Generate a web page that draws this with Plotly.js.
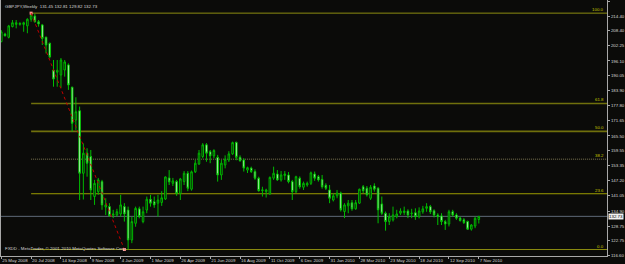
<!DOCTYPE html>
<html>
<head>
<meta charset="utf-8">
<script src="https://cdn.plot.ly/plotly-3.0.1.min.js"></script>
<style>
html,body{margin:0;padding:0;background:#0b0b09;}
#chart{width:625px;height:264px;}
</style>
</head>
<body>
<div id="chart"></div>
<script>
// Weekly bar dates (week start, Sunday)
const weeks = [
"2008-05-25","2008-06-01","2008-06-08","2008-06-15","2008-06-22","2008-06-29","2008-07-06","2008-07-13","2008-07-20","2008-07-27",
"2008-08-03","2008-08-10","2008-08-17","2008-08-24","2008-08-31","2008-09-07","2008-09-14","2008-09-21","2008-09-28","2008-10-05",
"2008-10-12","2008-10-19","2008-10-26","2008-11-02","2008-11-09","2008-11-16","2008-11-23","2008-11-30","2008-12-07","2008-12-14",
"2008-12-21","2008-12-28","2009-01-04","2009-01-11","2009-01-18","2009-01-25","2009-02-01","2009-02-08","2009-02-15","2009-02-22",
"2009-03-01","2009-03-08","2009-03-15","2009-03-22","2009-03-29","2009-04-05","2009-04-12","2009-04-19","2009-04-26","2009-05-03",
"2009-05-10","2009-05-17","2009-05-24","2009-05-31","2009-06-07","2009-06-14","2009-06-21","2009-06-28","2009-07-05","2009-07-12",
"2009-07-19","2009-07-26","2009-08-02","2009-08-09","2009-08-16","2009-08-23","2009-08-30","2009-09-06","2009-09-13","2009-09-20",
"2009-09-27","2009-10-04","2009-10-11","2009-10-18","2009-10-25","2009-11-01","2009-11-08","2009-11-15","2009-11-22","2009-11-29",
"2009-12-06","2009-12-13","2009-12-20","2009-12-27","2010-01-03","2010-01-10","2010-01-17","2010-01-24","2010-01-31","2010-02-07",
"2010-02-14","2010-02-21","2010-02-28","2010-03-07","2010-03-14","2010-03-21","2010-03-28","2010-04-04","2010-04-11","2010-04-18",
"2010-04-25","2010-05-02","2010-05-09","2010-05-16","2010-05-23","2010-05-30","2010-06-06","2010-06-13","2010-06-20","2010-06-27",
"2010-07-04","2010-07-11","2010-07-18","2010-07-25","2010-08-01","2010-08-08","2010-08-15","2010-08-22","2010-08-29","2010-09-05",
"2010-09-12","2010-09-19","2010-09-26","2010-10-03","2010-10-10","2010-10-17","2010-10-24","2010-10-31","2010-11-07"
];

const openP = [
204.0,207.1,205.75,210.1,211.0,211.0,211.0,210.4,213.1,214.4,
212.1,210.8,205.8,203.3,192.4,191.5,190.4,192.4,194.5,185.4,
172.0,175.8,150.3,158.5,157.1,140.8,142.8,146.9,136.5,136.7,
133.2,133.3,133.7,136.7,135.3,123.1,129.9,135.8,130.6,135.3,
139.7,138.7,138.1,138.4,139.8,148.4,146.2,146.9,142.1,146.9,
150.3,143.8,150.9,154.1,157.1,161.9,159.1,157.4,156.8,149.6,
153.7,155.7,158.2,162.9,156.8,155.7,151.6,152.4,151.0,148.3,
143.2,142.8,141.9,148.3,150.0,147.6,149.4,149.6,146.9,142.8,
148.3,144.6,145.5,146.2,150.0,148.9,147.8,145.4,143.5,139.4,
141.1,142.2,134.7,137.0,138.3,135.8,138.1,144.8,144.2,140.1,
145.1,144.2,137.8,134.0,130.6,131.3,132.6,134.0,134.3,134.9,
133.8,134.2,132.6,134.6,136.0,136.7,135.0,133.3,132.9,130.6,
129.6,134.6,133.3,132.0,131.3,130.6,127.5,128.8,131.45
];
const highP = [
208.7,207.6,210.8,212.8,212.8,211.9,212.1,213.5,215.6,215.3,
212.8,211.2,206.0,203.6,196.5,196.5,197.3,196.5,195.1,185.6,
181.3,177.5,162.5,160.5,159.8,147.6,148.4,147.6,140.1,138.1,
135.4,135.8,141.5,138.1,136.7,132.6,136.7,136.7,136.7,140.8,
141.5,140.8,141.5,143.0,149.0,151.6,148.4,147.6,148.4,151.2,
151.2,151.4,155.7,159.8,162.6,162.6,159.8,160.1,157.8,155.7,
157.6,159.3,163.2,163.2,157.6,156.4,153.0,153.0,151.9,148.9,
144.8,144.0,149.0,153.0,151.6,151.2,151.2,150.8,147.6,149.3,
149.0,146.9,146.9,151.0,151.0,149.6,149.6,146.2,145.5,142.1,
143.5,142.8,138.1,139.4,139.4,139.4,144.0,145.5,145.1,145.5,
146.2,144.6,140.8,134.7,134.0,136.7,135.4,136.0,136.7,135.6,
135.8,136.0,136.4,137.0,138.1,137.4,135.6,134.0,134.0,131.3,
135.4,135.4,134.0,132.6,132.0,131.0,129.6,132.6,132.81
];
const lowP = [
203.7,206.0,205.3,209.8,209.4,210.5,208.0,207.4,212.1,211.7,
210.1,202.6,199.2,197.2,185.6,185.6,185.1,189.7,184.3,167.3,
168.0,139.4,139.6,148.9,139.4,137.4,141.5,135.4,133.3,132.6,
132.0,132.6,132.6,130.6,119.2,121.8,128.5,131.9,129.9,134.0,
136.7,136.2,132.6,137.0,139.4,145.5,145.1,141.1,139.4,145.5,
143.0,143.2,150.4,153.7,156.4,155.0,154.4,156.4,146.9,147.6,
152.3,154.9,157.8,155.6,155.0,151.0,150.4,150.4,147.6,142.8,
140.8,140.4,141.5,147.6,147.2,146.9,147.6,146.2,139.4,142.2,
144.0,143.5,144.8,145.5,147.2,146.9,144.0,143.5,138.1,138.8,
140.1,134.7,132.0,134.0,135.0,135.4,137.8,142.2,140.8,139.4,
142.8,129.9,133.3,126.9,129.2,130.6,131.9,133.3,133.3,132.0,
132.0,131.3,131.9,133.8,134.6,133.7,132.3,129.2,129.2,127.2,
128.6,132.6,131.3,130.6,129.6,127.2,126.9,127.9,129.82
];
const closeP = [
208.0,206.4,210.4,211.7,211.7,211.4,211.7,213.1,214.8,212.1,
211.2,205.3,202.6,197.8,188.7,192.3,196.5,195.7,186.3,170.7,
175.4,150.3,158.5,154.4,143.5,146.2,147.6,137.4,137.4,133.0,
133.7,134.6,137.4,133.7,123.1,130.6,136.0,132.6,134.6,139.7,
138.1,137.4,139.4,140.3,148.8,146.8,147.2,142.1,148.0,150.3,
144.2,150.9,154.4,158.5,161.9,158.5,157.4,159.6,149.6,154.4,
156.0,158.2,162.8,156.8,155.4,152.4,152.6,151.0,148.3,143.2,
143.5,143.5,148.6,150.3,147.6,149.6,150.0,146.9,142.8,148.9,
144.8,146.2,146.2,150.5,148.3,147.6,144.8,144.2,140.1,141.1,
142.2,135.4,137.4,138.1,135.8,138.3,143.8,143.2,141.5,144.6,
143.8,135.4,134.0,130.6,132.6,133.3,133.7,134.9,134.9,133.3,
134.0,132.6,134.9,135.8,136.7,134.6,133.3,132.6,130.6,129.6,
134.6,133.3,132.0,131.0,130.2,127.5,129.2,131.9,132.73
];

// Price scale tick labels
const priceTicks = [220.55,214.40,208.40,202.25,196.10,190.05,183.90,177.80,171.65,165.50,159.55,153.35,147.20,141.05,134.90,128.75,122.75,116.60];
// Date scale tick labels
const dateTicks = ["2008-05-25","2008-07-20","2008-09-14","2008-11-09","2009-01-04","2009-03-01","2009-04-26","2009-06-21","2009-08-16","2009-10-11","2009-12-06","2010-01-31","2010-03-28","2010-05-23","2010-07-18","2010-09-12","2010-11-07"];
const dateLabels = ["25 May 2008","20 Jul 2008","14 Sep 2008","9 Nov 2008","4 Jan 2009","1 Mar 2009","26 Apr 2009","21 Jun 2009","16 Aug 2009","11 Oct 2009","6 Dec 2009","31 Jan 2010","28 Mar 2010","23 May 2010","18 Jul 2010","12 Sep 2010","7 Nov 2010"];

// Fibonacci retracement anchors
const fibHigh = 215.6, fibHighDate = "2008-07-20";
const fibLow = 119.2, fibLowDate = "2009-01-11";
const fibRatios = [0, 23.6, 38.2, 50.0, 61.8, 100.0];
const fibLabels = ["0.0","23.6","38.2","50.0","61.8","100.0"];
const bid = 132.73;
const titleText = "GBPJPY,Weekly  131.45 132.81 129.82 132.73";
const footerText = "FXDD - MetaTrader, © 2001-2010 MetaQuotes Software Corp.";

const BG = '#0b0b09';
const AX = '#a8a8a8';
const TXT = '#d8d8d8';
const FF = 'Liberation Sans, Arial, sans-serif';
const FS = 4.4;
const xEnd = '2011-07-05 12:00';

const fibColors = ['#8c8c10','#9c9c00','#57533a','#70700c','#70700c','#8c8c10'];
const fibWidths = [1, 1, 1.5, 1.6, 1.6, 1];
const fibDash = ['solid','solid','1px,1px','solid','solid','solid'];

const shapes = [];
const annotations = [];
fibRatios.forEach((r, k) => {
  const lvl = fibLow + r / 100 * (fibHigh - fibLow);
  shapes.push({type:'line', xref:'x', yref:'y', x0: fibHighDate, x1: xEnd, y0: lvl, y1: lvl,
    line:{color: fibColors[k], width: fibWidths[k], dash: fibDash[k]}, layer:'below'});
  annotations.push({xref:'paper', yref:'y', x: 0.998, y: lvl, xanchor:'right', yanchor:'bottom',
    text: fibLabels[k], showarrow:false, font:{family:FF, size:FS, color:'#c8c800'}, yshift:-1});
});
// bid line
shapes.push({type:'line', xref:'paper', yref:'y', x0:0, x1:1, y0:bid, y1:bid,
  line:{color:'#5f6a78', width:1}, layer:'below'});
// red dotted trend line of the fib tool
shapes.push({type:'line', xref:'x', yref:'y', x0: fibHighDate, y0: fibHigh, x1: fibLowDate, y1: fibLow,
  line:{color:'#c00000', width:1, dash:'dot'}, layer:'above'});

annotations.push({xref:'paper', yref:'y', x:1, y:bid, xanchor:'left', yanchor:'middle', xshift:1,
  text: bid.toFixed(2), showarrow:false, bgcolor:'#f0f0f0', borderpad:0,
  font:{family:FF, size:FS, color:'#000000'}});
annotations.push({xref:'paper', yref:'paper', x:0, y:1, xanchor:'left', yanchor:'top', xshift:2, yshift:-2,
  text: titleText, showarrow:false, font:{family:FF, size:FS, color:TXT}});
annotations.push({xref:'paper', yref:'paper', x:0, y:0, xanchor:'left', yanchor:'bottom', xshift:2, yshift:3,
  text: footerText, showarrow:false, font:{family:FF, size:FS, color:TXT}});

const candles = {
  type:'candlestick', x: weeks, open: openP, high: highP, low: lowP, close: closeP,
  increasing:{line:{color:'#00b800', width:1}, fillcolor: BG},
  decreasing:{line:{color:'#00c000', width:1}, fillcolor:'#f2fff2'},
  whiskerwidth: 0, hoverinfo:'none', showlegend:false
};
const anchors = {
  type:'scatter', mode:'markers', x:[fibHighDate, fibLowDate], y:[fibHigh, fibLow],
  marker:{symbol:'square', size:3, color:'#ff9090', line:{width:0}}, hoverinfo:'none', showlegend:false
};

const layout = {
  width:625, height:264,
  margin:{l:1, r:18, t:0, b:8, pad:0},
  paper_bgcolor: BG, plot_bgcolor: BG,
  showlegend:false,
  boxgap: 0.4,
  xaxis:{
    type:'date', range:['2008-05-24 12:00', xEnd], rangeslider:{visible:false},
    showgrid:false, zeroline:false, showline:true, mirror:true, linecolor:AX, linewidth:1,
    ticks:'outside', ticklen:2, tickcolor:AX, tickwidth:1,
    tickmode:'array', tickvals: dateTicks, ticktext: dateLabels,
    ticklabelposition:'outside right', tickangle:0,
    tickfont:{family:FF, size:FS, color:TXT}, automargin:false, fixedrange:true
  },
  yaxis:{
    side:'right', range:[116.56, 220.96],
    showgrid:false, zeroline:false, showline:true, mirror:true, linecolor:AX, linewidth:1,
    ticks:'outside', ticklen:2, tickcolor:AX, tickwidth:1,
    tickmode:'array', tickvals: priceTicks, ticktext: priceTicks.map(v => v.toFixed(2)),
    tickfont:{family:FF, size:FS, color:TXT}, automargin:false, fixedrange:true
  },
  shapes: shapes,
  annotations: annotations
};

Plotly.newPlot('chart', [candles, anchors], layout, {displayModeBar:false, staticPlot:true});
</script>
</body>
</html>
